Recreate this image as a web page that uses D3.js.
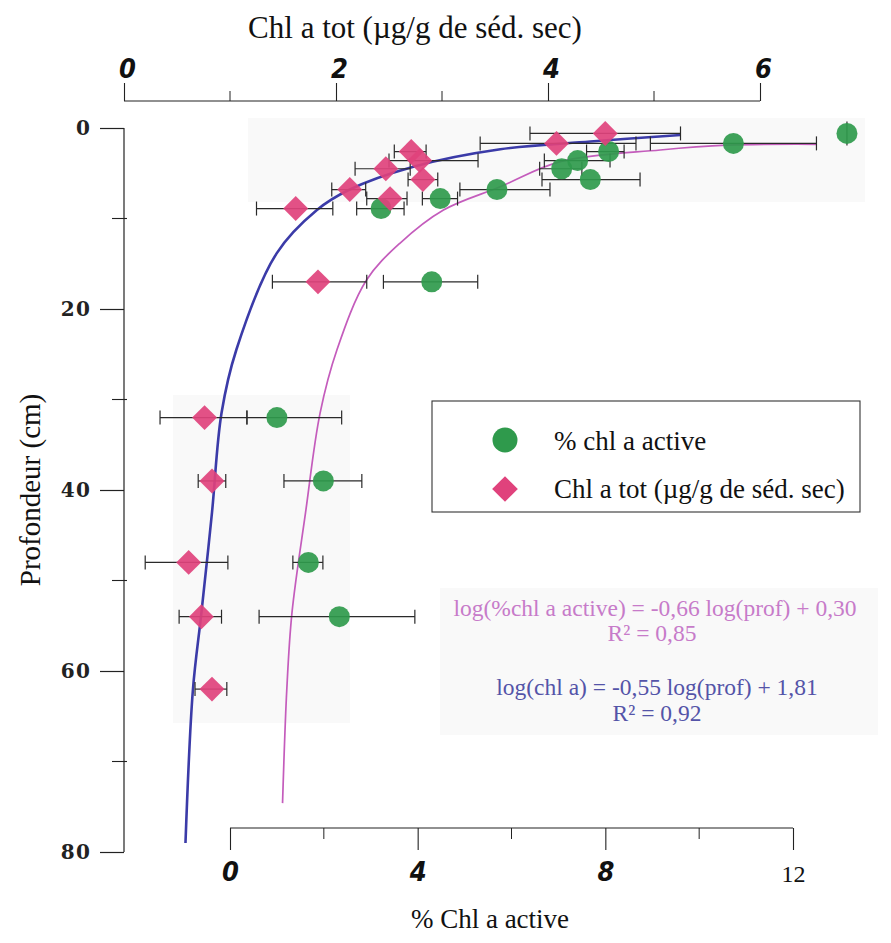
<!DOCTYPE html>
<html>
<head>
<meta charset="utf-8">
<script src="https://cdn.jsdelivr.net/npm/d3@7"></script>
<style>
  html, body { margin: 0; padding: 0; background: #ffffff; }
  svg { display: block; }
</style>
</head>
<body>
<svg id="chart" width="891" height="943"></svg>
<script>
// ---------------- DATA ----------------
const depth = [0.6, 1.7, 2.6, 3.6, 4.5, 5.7, 6.8, 7.8, 8.9, 17, 32, 39, 48, 54, 62];

// % chl a active (bottom axis)
const chlActive   = [13.15, 10.73, 8.07, 7.41, 7.07, 7.68, 5.69, 4.48, 3.22, 4.30, 1.00, 1.99, 1.67, 2.33, null];
const chlActiveLo = [13.15,  8.96, 7.60, 6.70, 6.60, 6.65, 4.90, 4.10, 2.70, 3.27, 0.36, 1.15, 1.34, 0.62, null];
const chlActiveHi = [13.15, 12.50, 8.40, 8.10, 7.50, 8.74, 6.82, 4.85, 3.71, 5.28, 2.38, 2.81, 1.98, 3.94, null];

// Chl a tot (µg/g de séd. sec) (top axis)
const chlTot   = [4.54, 4.08, 2.71, 2.79, 2.47, 2.82, 2.13, 2.51, 1.62, 1.83, 0.76, 0.83, 0.61, 0.73, 0.83];
const chlTotLo = [3.83, 3.36, 2.55, 2.50, 2.18, 2.68, 1.96, 2.29, 1.25, 1.40, 0.34, 0.70, 0.20, 0.52, 0.67];
const chlTotHi = [5.25, 4.83, 2.85, 3.34, 2.70, 2.96, 2.28, 2.67, 1.97, 2.29, 1.16, 0.96, 0.98, 0.92, 0.97];

// fitted curves
const fitTotDepth = [0.77, 1.5, 2.35, 4.28, 6.85, 9.06, 13.85, 24.5, 31.5, 42.5, 53.6, 62.1, 79.0];
const fitTotValue = [5.25, 4.40, 3.55, 2.73, 2.12, 1.82, 1.44, 1.06, 0.92, 0.83, 0.73, 0.65, 0.58];

const fitActDepth = [1.8, 1.9, 2.43, 3.72, 6.49, 9.06, 12.74, 16.8, 24.5, 31.5, 42.5, 53.6, 62.1, 74.6];
const fitActValue = [12.51, 10.59, 9.17, 7.04, 5.76, 4.55, 3.62, 2.91, 2.28, 1.92, 1.61, 1.32, 1.21, 1.12];

// axes
const depthTicks = [0, 20, 40, 60, 80];
const depthMinor = [10, 30, 50, 70];
const totTicks = [0, 2, 4, 6];
const totMinor = [1, 3, 5];
const actTicks = [0, 4, 8, 12];
const actMinor = [2, 6, 10];

const titleTop = "Chl a tot (µg/g de séd. sec)";
const titleBottom = "% Chl a active";
const titleLeft = "Profondeur (cm)";
const legendLabels = ["% chl a active", "Chl a tot (µg/g de séd. sec)"];
const eqActive = ["log(%chl a active) = -0,66 log(prof) + 0,30", "R² = 0,85"];
const eqTot = ["log(chl a) = -0,55 log(prof) + 1,81", "R² = 0,92"];

// ---------------- STYLE ----------------
const GREEN = "#2f9a4c";
const PINK = "#e0427c";
const BLUE = "#3b3ba8";
const MAGENTA = "#c45cbc";
const INK = "#222";
const SERIF = "'Liberation Serif', 'Times New Roman', serif";
const HAND = "'Liberation Sans Narrow', 'DejaVu Sans Condensed', 'Liberation Sans', sans-serif";

const svg = d3.select("#chart");

// scales
const y = d3.scaleLinear().domain([0, 80]).range([128, 852]);
const xTot = d3.scaleLinear().domain([0, 6]).range([124, 760]);
const xAct = d3.scaleLinear().domain([0, 12]).range([230, 793]);

// faint scan patches (background)
const patches = svg.append("g").attr("fill", "#f9f9f9");
patches.append("rect").attr("x", 248).attr("y", 118).attr("width", 617).attr("height", 84);
patches.append("rect").attr("x", 173).attr("y", 395).attr("width", 177).attr("height", 328);
patches.append("rect").attr("x", 440).attr("y", 588).attr("width", 438).attr("height", 147);

// ---------------- AXES ----------------
// left depth axis
const leftAxis = svg.append("g").attr("transform", "translate(124,0)")
  .call(d3.axisLeft(y).tickValues(depthTicks).tickSize(24).tickPadding(10).tickFormat(d3.format("d")));
leftAxis.select(".domain").attr("d", `M0,${y(0)}V${y(80)}`).attr("stroke", INK).attr("stroke-width", 1.2);
leftAxis.selectAll(".tick line").attr("stroke", INK).attr("stroke-width", 1.2);
leftAxis.selectAll(".tick text").attr("font-family", "'DejaVu Serif', serif").attr("font-weight", "bold")
  .attr("font-size", 20).attr("letter-spacing", 1.2).attr("fill", INK).attr("x", -33);
svg.append("g").selectAll("line").data(depthMinor).join("line")
  .attr("x1", 112).attr("x2", 127).attr("y1", d => y(d)).attr("y2", d => y(d))
  .attr("stroke", INK).attr("stroke-width", 1.1);

// top chl tot axis
const topAxis = svg.append("g").attr("transform", "translate(0,101)")
  .call(d3.axisTop(xTot).tickValues(totTicks).tickSize(18).tickPadding(5).tickFormat(d3.format("d")));
topAxis.select(".domain").attr("d", `M${xTot(0)},0H${xTot(6)}`).attr("stroke", INK).attr("stroke-width", 1.2);
topAxis.selectAll(".tick line").attr("stroke", INK).attr("stroke-width", 1.1);
topAxis.selectAll(".tick text").attr("font-family", HAND).attr("font-style", "italic").attr("font-weight", "bold")
  .attr("font-size", 27).attr("fill", "#111").attr("dx", 3);
svg.append("g").selectAll("line").data(totMinor).join("line")
  .attr("x1", d => xTot(d)).attr("x2", d => xTot(d)).attr("y1", 91).attr("y2", 101)
  .attr("stroke", INK).attr("stroke-width", 1);

// bottom % active axis
const botAxis = svg.append("g").attr("transform", "translate(0,828)")
  .call(d3.axisBottom(xAct).tickValues(actTicks).tickSize(22).tickPadding(12).tickFormat(d3.format("d")));
botAxis.select(".domain").attr("d", `M${xAct(0)},0H${xAct(12)}`).attr("stroke", INK).attr("stroke-width", 1.2);
botAxis.selectAll(".tick line").attr("stroke", INK).attr("stroke-width", 1.1);
botAxis.selectAll(".tick text").each(function(d) {
  const t = d3.select(this);
  if (d === 12) {
    t.attr("font-family", SERIF).attr("font-size", 24).attr("fill", "#111").attr("dy", "0.85em");
  } else {
    t.attr("font-family", HAND).attr("font-style", "italic").attr("font-weight", "bold")
     .attr("font-size", 27).attr("fill", "#111").attr("dy", "0.72em");
  }
});
svg.append("g").selectAll("line").data(actMinor).join("line")
  .attr("x1", d => xAct(d)).attr("x2", d => xAct(d)).attr("y1", 828).attr("y2", 839)
  .attr("stroke", INK).attr("stroke-width", 1);

// titles
svg.append("text").attr("x", 415).attr("y", 38).attr("text-anchor", "middle")
  .attr("font-family", SERIF).attr("font-size", 31).attr("fill", "#111").text(titleTop);
svg.append("text").attr("x", 490).attr("y", 928).attr("text-anchor", "middle")
  .attr("font-family", SERIF).attr("font-size", 27).attr("fill", "#111").text(titleBottom);
svg.append("text").attr("transform", "translate(40,490) rotate(-90)").attr("text-anchor", "middle")
  .attr("font-family", SERIF).attr("font-size", 29).attr("fill", "#111").text(titleLeft);

// ---------------- CURVES ----------------
const lineTot = d3.line().x(d => xTot(d[1])).y(d => y(d[0])).curve(d3.curveCatmullRom.alpha(0.5));
const lineAct = d3.line().x(d => xAct(d[1])).y(d => y(d[0])).curve(d3.curveCatmullRom.alpha(0.5));

svg.append("path").datum(d3.zip(fitActDepth, fitActValue)).attr("d", lineAct)
  .attr("fill", "none").attr("stroke", MAGENTA).attr("stroke-width", 1.7);
svg.append("path").datum(d3.zip(fitTotDepth, fitTotValue)).attr("d", lineTot)
  .attr("fill", "none").attr("stroke", BLUE).attr("stroke-width", 2.6);

// ---------------- ERROR BARS ----------------
function errorBars(vals, lo, hi, xs) {
  const g = svg.append("g").attr("stroke", "#2a2a2a").attr("stroke-width", 1.2).attr("fill", "none");
  depth.forEach((d, i) => {
    if (vals[i] == null || lo[i] == null) return;
    const yy = y(d), x0 = xs(lo[i]), x1 = xs(hi[i]);
    if (x1 - x0 < 1) {
      g.append("line").attr("x1", xs(vals[i])).attr("x2", xs(vals[i])).attr("y1", yy - 12).attr("y2", yy + 12);
      return;
    }
    g.append("line").attr("x1", x0).attr("x2", x1).attr("y1", yy).attr("y2", yy);
    g.append("line").attr("x1", x0).attr("x2", x0).attr("y1", yy - 7).attr("y2", yy + 7);
    g.append("line").attr("x1", x1).attr("x2", x1).attr("y1", yy - 7).attr("y2", yy + 7);
  });
}
errorBars(chlActive, chlActiveLo, chlActiveHi, xAct);
errorBars(chlTot, chlTotLo, chlTotHi, xTot);

// ---------------- MARKERS ----------------
const diamond = d3.symbol().type(d3.symbolSquare).size(310);
svg.append("g").selectAll("circle")
  .data(depth.map((d, i) => [d, chlActive[i]]).filter(p => p[1] != null))
  .join("circle")
  .attr("cx", p => xAct(p[1])).attr("cy", p => y(p[0])).attr("r", 10.5)
  .attr("fill", GREEN).attr("fill-opacity", 0.92);
svg.append("g").selectAll("path")
  .data(depth.map((d, i) => [d, chlTot[i]]))
  .join("path")
  .attr("d", diamond)
  .attr("transform", p => `translate(${xTot(p[1])},${y(p[0])}) rotate(45)`)
  .attr("fill", PINK).attr("fill-opacity", 0.92);

// ---------------- LEGEND ----------------
const lg = svg.append("g");
lg.append("rect").attr("x", 432).attr("y", 401).attr("width", 428).attr("height", 111)
  .attr("fill", "#fff").attr("stroke", "#333").attr("stroke-width", 1.1);
lg.append("circle").attr("cx", 505).attr("cy", 440).attr("r", 12.5).attr("fill", GREEN);
lg.append("path").attr("d", d3.symbol().type(d3.symbolSquare).size(330))
  .attr("transform", "translate(505,489) rotate(45)").attr("fill", PINK);
lg.selectAll("text").data(legendLabels).join("text")
  .attr("x", 554).attr("y", (d, i) => 450 + i * 48)
  .attr("font-family", SERIF).attr("font-size", 27).attr("fill", "#111").text(d => d);

// ---------------- EQUATIONS ----------------
const eq = svg.append("g").attr("font-family", SERIF).attr("text-anchor", "middle");
eq.selectAll("text.a").data(eqActive).join("text").attr("class", "a")
  .attr("x", (d, i) => i === 0 ? 655 : 652).attr("y", (d, i) => 616 + i * 25)
  .attr("font-size", 23.5)
  .attr("fill", "#c77bc9").text(d => d);
eq.selectAll("text.b").data(eqTot).join("text").attr("class", "b")
  .attr("x", 657).attr("y", (d, i) => 695 + i * 26)
  .attr("font-size", 23.5)
  .attr("fill", "#5454a8").text(d => d);
</script>
</body>
</html>
